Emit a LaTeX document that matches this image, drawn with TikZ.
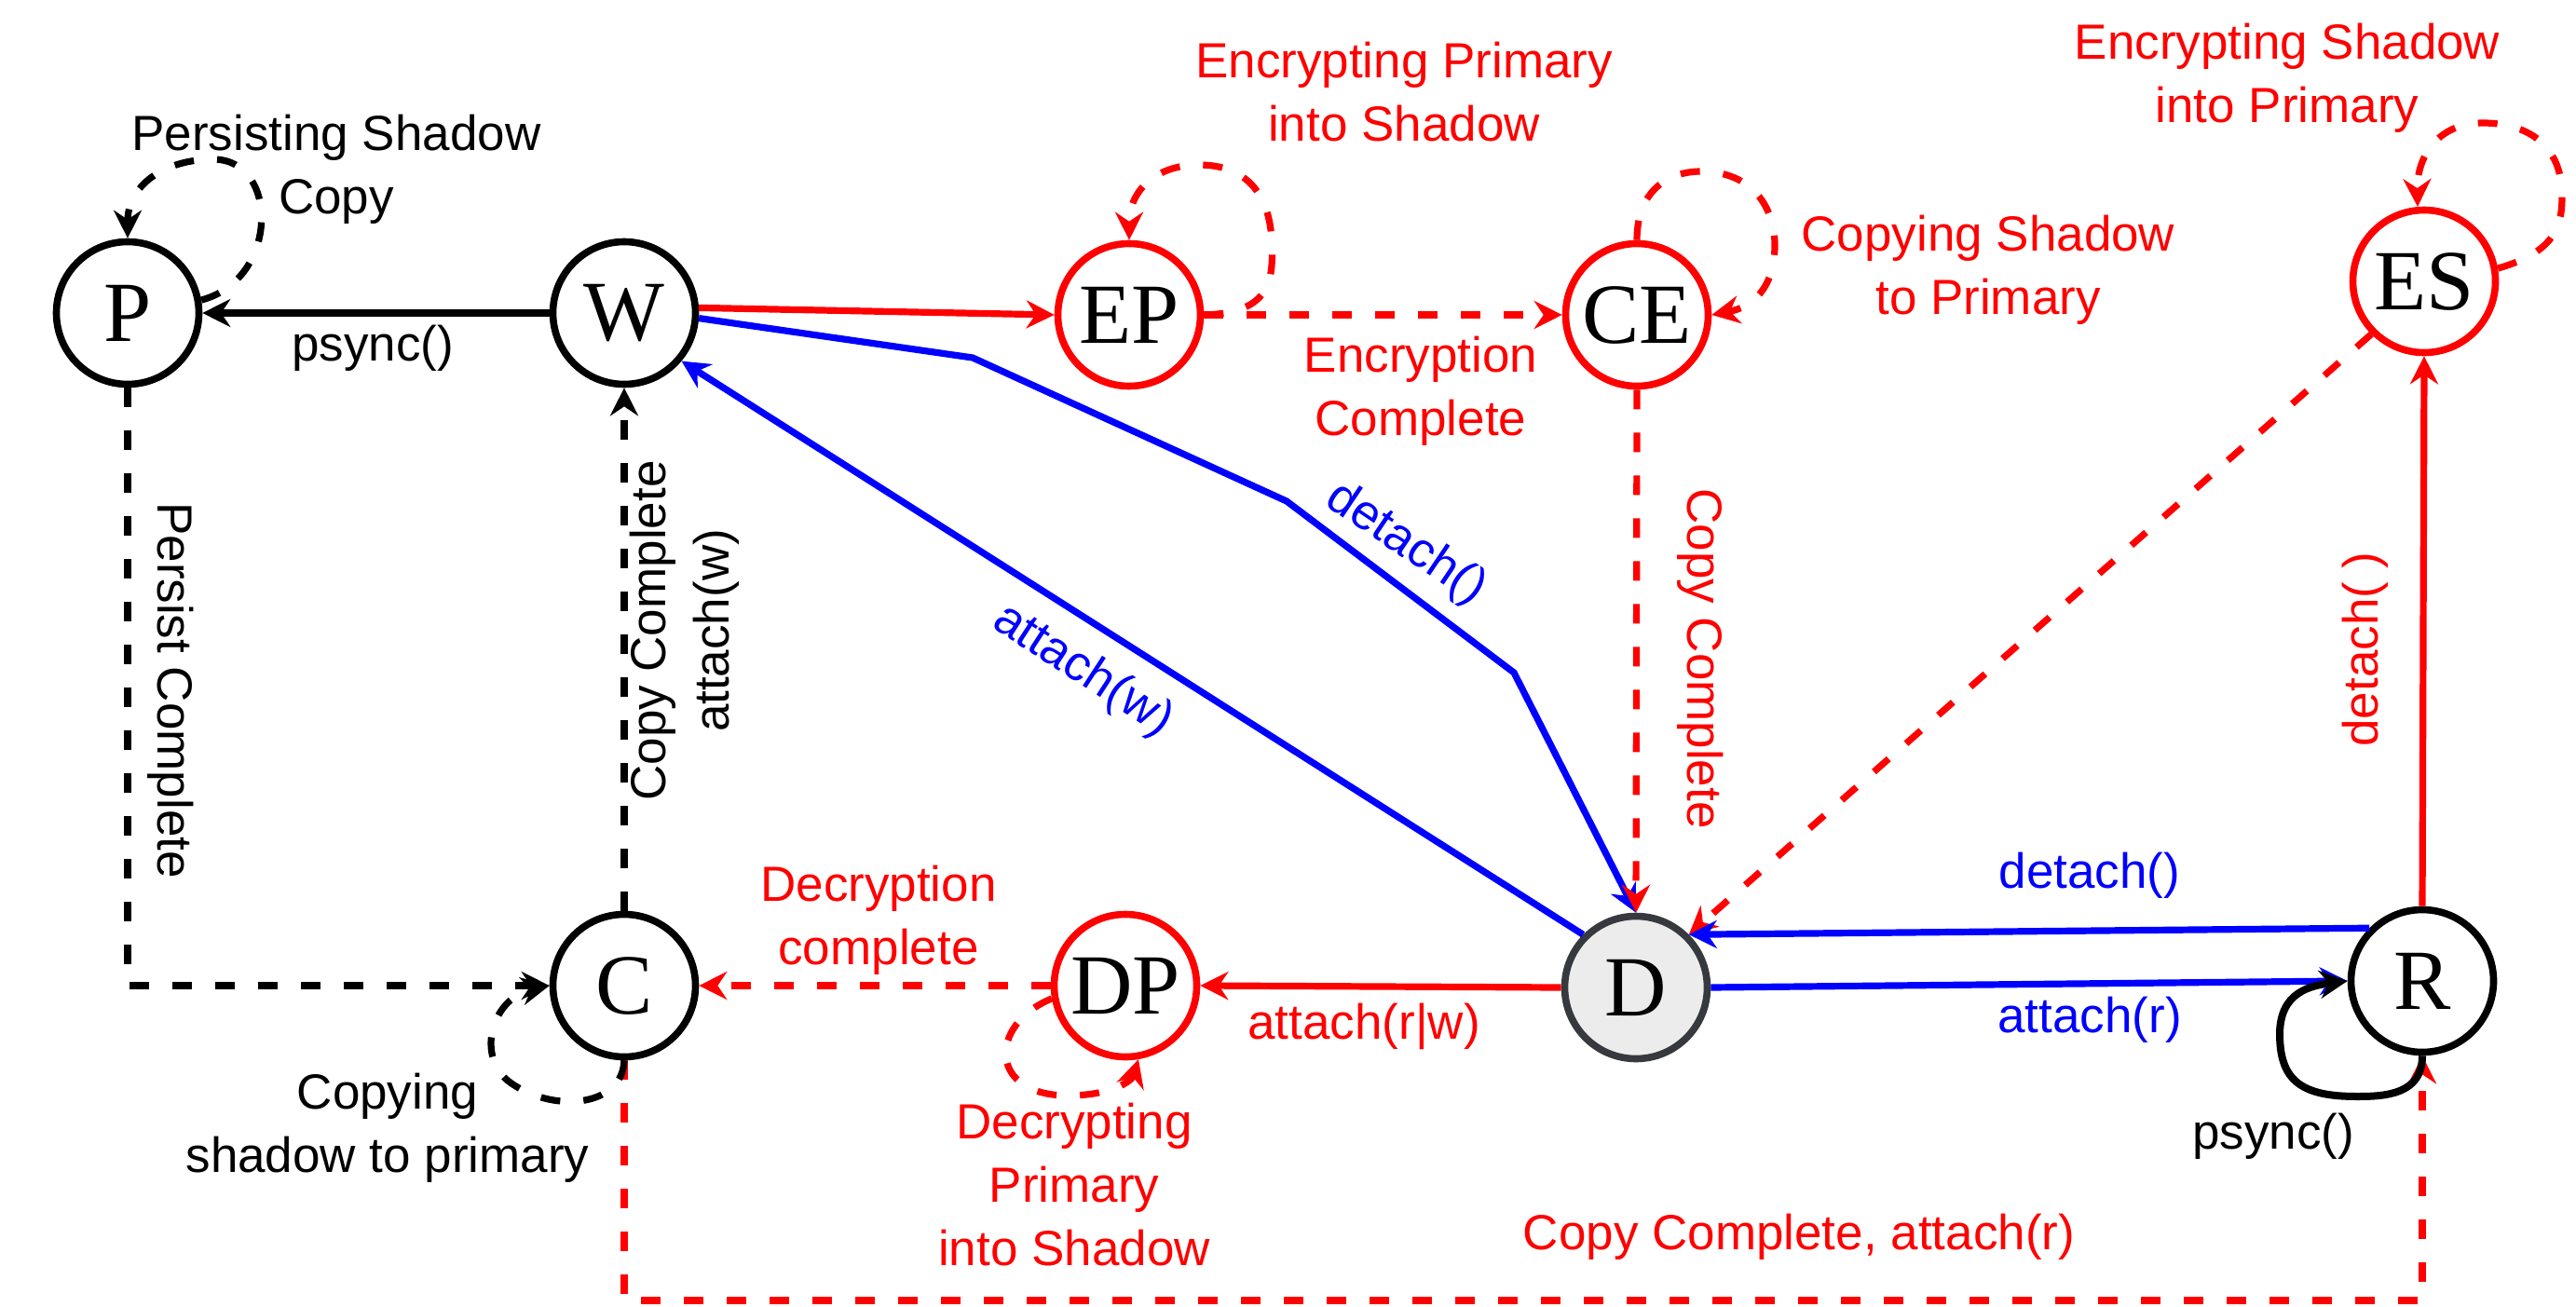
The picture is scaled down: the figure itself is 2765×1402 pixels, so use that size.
\documentclass[tikz,border=0pt]{standalone}
\usepackage{fontspec}
\setmainfont{Liberation Sans}
\newfontfamily\nodeserif{Liberation Serif}
\usetikzlibrary{arrows.meta}
\definecolor{dfill}{RGB}{236,236,236}
\definecolor{dline}{RGB}{54,57,61}
\begin{document}
\begin{tikzpicture}[x=0.5pt,y=-0.5pt,
  st/.style={circle,draw=black,line width=3.8pt,minimum size=76.5pt,inner sep=0pt,fill=white,font=\nodeserif\fontsize{46}{46}\selectfont},
  rst/.style={st,draw=red},
  lbl/.style={font=\fontsize{26.5}{34}\selectfont,align=center,inner sep=0pt},
  ed/.style={line width=3.6pt},
  arr/.style={-{Stealth[length=15pt,width=15pt,inset=5pt]}},
  dsh/.style={dash pattern=on 10.5pt off 12.5pt},
]
\useasboundingbox (0,0) rectangle (2765,1402);

% states
\node[st]  (P)  at (137,336)  {P};
\node[st]  (W)  at (670,336)  {W};
\node[rst] (EP) at (1212,338) {EP};
\node[rst] (CE) at (1757,338) {CE};
\node[rst] (ES) at (2602,302) {ES};
\node[st]  (C)  at (670,1058) {C};
\node[rst] (DP) at (1208,1058) {DP};
\node[st,fill=dfill,draw=dline] (D) at (1756,1060) {D};
\node[st]  (R)  at (2600,1053) {R};

% helper coordinates
\coordinate (b1) at (1044,384);
\coordinate (b2) at (1381,538);
\coordinate (b3) at (1625,722);
\coordinate (cb) at (670,1396);

% connectors
\draw[ed,arr,line width=4pt] (W.west) -- (P.east);
\draw[ed,arr,red] (W.4) -- (EP.west);
\draw[ed,arr,red,dsh] (EP.east) -- (CE.west);
\draw[ed,arr,blue] (W.-4) -- (b1) -- (b2) -- (b3) -- (D.north);
\draw[ed,arr,blue] (D.135) -- (W.-40);
\draw[ed,arr,red,dsh] (CE.south) -- (D.north);
\draw[ed,arr,red,dsh] (ES.225) -- (D.45);
\draw[ed,arr,blue] (R.135) -- (D.45);
\draw[ed,arr,blue] (D.east) -- (R.west);
\draw[ed,arr,red] (R.north) -- (ES.south);
\draw[ed,arr,red] (D.west) -- (DP.east);
\draw[ed,arr,red,dsh] (DP.west) -- (C.east);
\draw[ed,arr,dsh] (P.south) |- (C.west);
\draw[ed,arr,dsh] (C.north) -- (W.south);
\draw[ed,arr,red,dsh] (C.south) -- (cb) -| (R.south);

% self loops
\draw[ed,arr,dsh] (P.10) .. controls (300,300) and (300,171) .. (229,171)
  .. controls (175,171) and (137,200) .. (P.north);
\draw[ed,arr,red,dsh] (EP.east) .. controls (1365,336) and (1367,300) .. (1365,258)
  .. controls (1362,200) and (1330,177) .. (1287,177)
  .. controls (1240,177) and (1212,205) .. (EP.north);
\draw[ed,arr,red,dsh] (CE.north) .. controls (1757,205) and (1790,184) .. (1826,184)
  .. controls (1880,184) and (1905,222) .. (1905,263)
  .. controls (1905,310) and (1880,330) .. (CE.east);
\draw[ed,arr,red,dsh] (ES.10) .. controls (2745,270) and (2750,240) .. (2750,210)
  .. controls (2750,155) and (2712,132) .. (2665,132)
  .. controls (2615,132) and (2594,170) .. (ES.95);
\draw[ed,arr,red,dsh] (DP.190) .. controls (1060,1100) and (1060,1178) .. (1150,1176)
  .. controls (1195,1175) and (1215,1160) .. (DP.-80);
\draw[ed,arr,dsh] (C.south) .. controls (668,1190) and (590,1195) .. (545,1160)
  .. controls (510,1130) and (530,1070) .. (C.west);
\draw[ed,arr,line width=4pt] (R.south) .. controls (2600,1175) and (2560,1177) .. (2530,1177)
  .. controls (2470,1177) and (2447,1160) .. (2447,1110)
  .. controls (2447,1065) and (2480,1058) .. (R.west);

% labels
\node[lbl] (lPloop) at (361,182) {Persisting Shadow\\Copy};
\node[lbl] (lWP) at (400,374) {psync()};
\node[lbl,red] (lEPloop) at (1507,99) {Encrypting Primary\\into Shadow};
\node[lbl,red] (lEPCE) at (1525,420) {Encryption\\Complete};
\node[lbl,red] (lCEloop) at (2134,290) {Copying Shadow\\to Primary};
\node[lbl,red] (lESloop) at (2455,84) {Encrypting Shadow\\into Primary};
\node[lbl,blue,rotate=-34] (lWD) at (1509,584) {detach()};
\node[lbl,blue,rotate=-33] (lDW) at (1162,720) {attach(w)};
\node[lbl,red,rotate=-90] (lCED) at (1825,707) {Copy Complete};
\node[lbl,rotate=-90] (lPC) at (183,741) {Persist Complete};
\node[lbl,rotate=90] (lCW) at (735,677) {Copy Complete\\attach(w)};
\node[lbl,red,rotate=90] (lRES) at (2539,697) {detach( )};
\node[lbl,blue] (lRD) at (2243,940) {detach()};
\node[lbl,blue] (lDR) at (2243,1095) {attach(r)};
\node[lbl,red] (lDDP) at (1464,1102) {attach(r|w)};
\node[lbl,red] (lDPC) at (943,988) {Decryption\\complete};
\node[lbl,red] (lDPloop) at (1153,1272) {Decrypting\\Primary\\into Shadow};
\node[lbl] (lCloop) at (416,1211) {Copying\\shadow to primary};
\node[lbl] (lRloop) at (2440,1220) {psync()};
\node[lbl,red] (lCR) at (1931,1328) {Copy Complete, attach(r)};
\end{tikzpicture}
\end{document}
